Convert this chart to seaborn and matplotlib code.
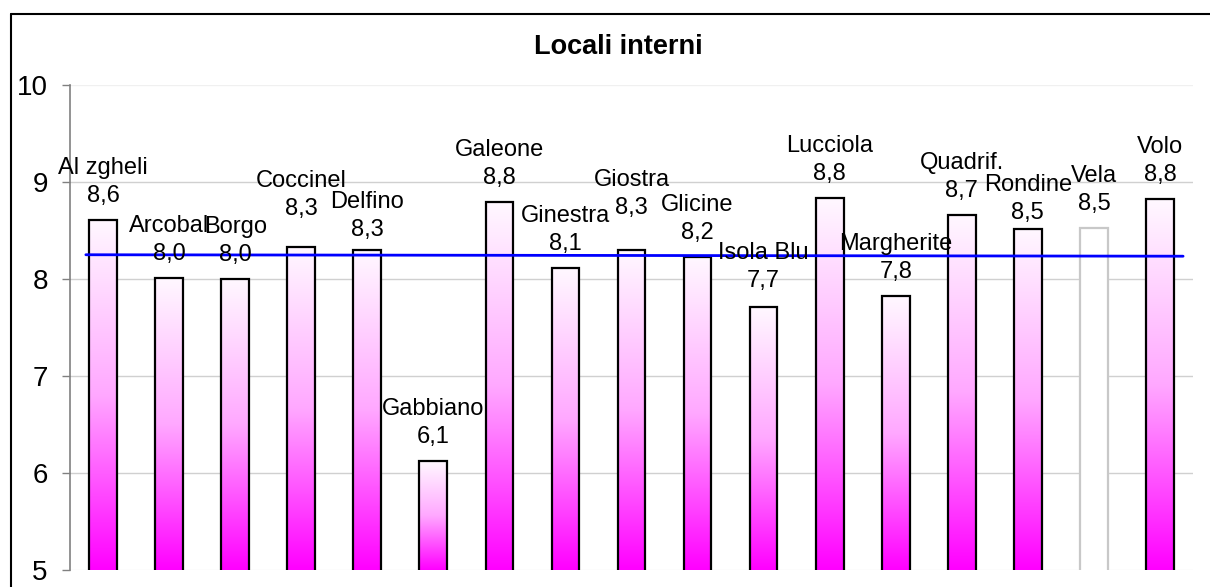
import numpy as np
import seaborn as sns
import matplotlib.pyplot as plt
from matplotlib.lines import Line2D

# dati
locali = ["Al zgheli", "Arcobal", "Borgo", "Coccinel", "Delfino", "Gabbiano",
          "Galeone", "Ginestra", "Giostra", "Glicine", "Isola Blu", "Lucciola",
          "Margherite", "Quadrif.", "Rondine", "Vela", "Volo"]
punteggi = [8.61, 8.01, 8.00, 8.33, 8.30, 6.12, 8.79, 8.11, 8.30, 8.23,
            7.71, 8.84, 7.82, 8.66, 8.52, 8.53, 8.82]
media = [8.25, 8.235]   # linea blu: valore all'inizio e alla fine
y_ticks = [5, 6, 7, 8, 9, 10]

# etichette spostate a mano (pixel in piu' sopra la barra)
spost_etichette = {"Coccinel": 14, "Delfino": -4, "Giostra": 18, "Rondine": -8,
                   "Isola Blu": 2}

sns.set_theme(style="white")
plt.rcParams['font.family'] = ['Liberation Sans', 'DejaVu Sans']
plt.rcParams['text.color'] = 'black'
plt.rcParams['ytick.color'] = 'black'

fig = plt.figure(figsize=(12.10, 5.87), dpi=100)
ax = fig.add_axes([70 / 1210, 17 / 587, 1123 / 1210, 485 / 587])

sns.barplot(x=locali, y=punteggi, width=0.42, color="white",
            edgecolor="black", linewidth=1.6, ax=ax, zorder=3)
ax.set_ylim(5, 10)
ax.set_xlim(-0.5, len(locali) - 0.5)

# riempimento sfumato magenta -> bianco
grad = np.linspace(0, 1, 256).reshape(-1, 1)
cmap = sns.blend_palette(["#ff00ff", "#ffa8ff", "#fff8ff"], as_cmap=True)
for nome, bar in zip(locali, ax.patches):
    if nome == "Vela":
        bar.set_edgecolor("#c8c8c8")
        continue
    bar.set_facecolor("none")
    x0 = bar.get_x()
    w = bar.get_width()
    top = bar.get_height()
    im = ax.imshow(grad, extent=[x0, x0 + w, 5, top], origin="lower",
                   cmap=cmap, aspect="auto", zorder=2)
    im.set_clip_path(bar)
ax.set_ylim(5, 10)
ax.set_xlim(-0.5, len(locali) - 0.5)

# linea media
ax.plot([-0.26, len(locali) - 1 + 0.35], media, color="#0000ff", lw=2, zorder=5)

# etichette: nome e valore
for i, (nome, v) in enumerate(zip(locali, punteggi)):
    dy = spost_etichette.get(nome, 0)
    ax.annotate(f"{v:.1f}".replace(".", ","), (i, v), xytext=(0, 24 + dy),
                textcoords="offset pixels", ha="center", va="center",
                fontsize=17, zorder=6)
    ax.annotate(nome, (i, v), xytext=(0, 52 + dy),
                textcoords="offset pixels", ha="center", va="center",
                fontsize=17, zorder=6)

# assi
ax.set_yticks(y_ticks)
ax.set_yticklabels([str(t) for t in y_ticks], fontsize=20)
ax.set_xticks([])
ax.set_xlabel("")
ax.tick_params(axis="y", left=True, length=6, width=1, color="#808080",
               labelcolor="black", pad=10)
ax.yaxis.grid(True, color="#d0d0d0", lw=1)
gl = ax.get_ygridlines()
gl[0].set_color("#f0f0f0")
gl[-1].set_color("#f0f0f0")
ax.set_axisbelow(True)
for s in ["top", "right", "bottom"]:
    ax.spines[s].set_visible(False)
ax.spines["left"].set_color("#808080")
ax.spines["left"].set_linewidth(1.2)

fig.text(618 / 1210, 1 - 47 / 587, "Locali interni", ha="center", va="center",
         fontsize=19.5, fontweight="bold")

# cornice esterna
fig.add_artist(Line2D([11 / 1210, 1], [1 - 14 / 587] * 2, color="black", lw=1.5))
fig.add_artist(Line2D([11 / 1210] * 2, [0, 1 - 14 / 587], color="black", lw=1.5))

fig.savefig("out.png", dpi=100)
